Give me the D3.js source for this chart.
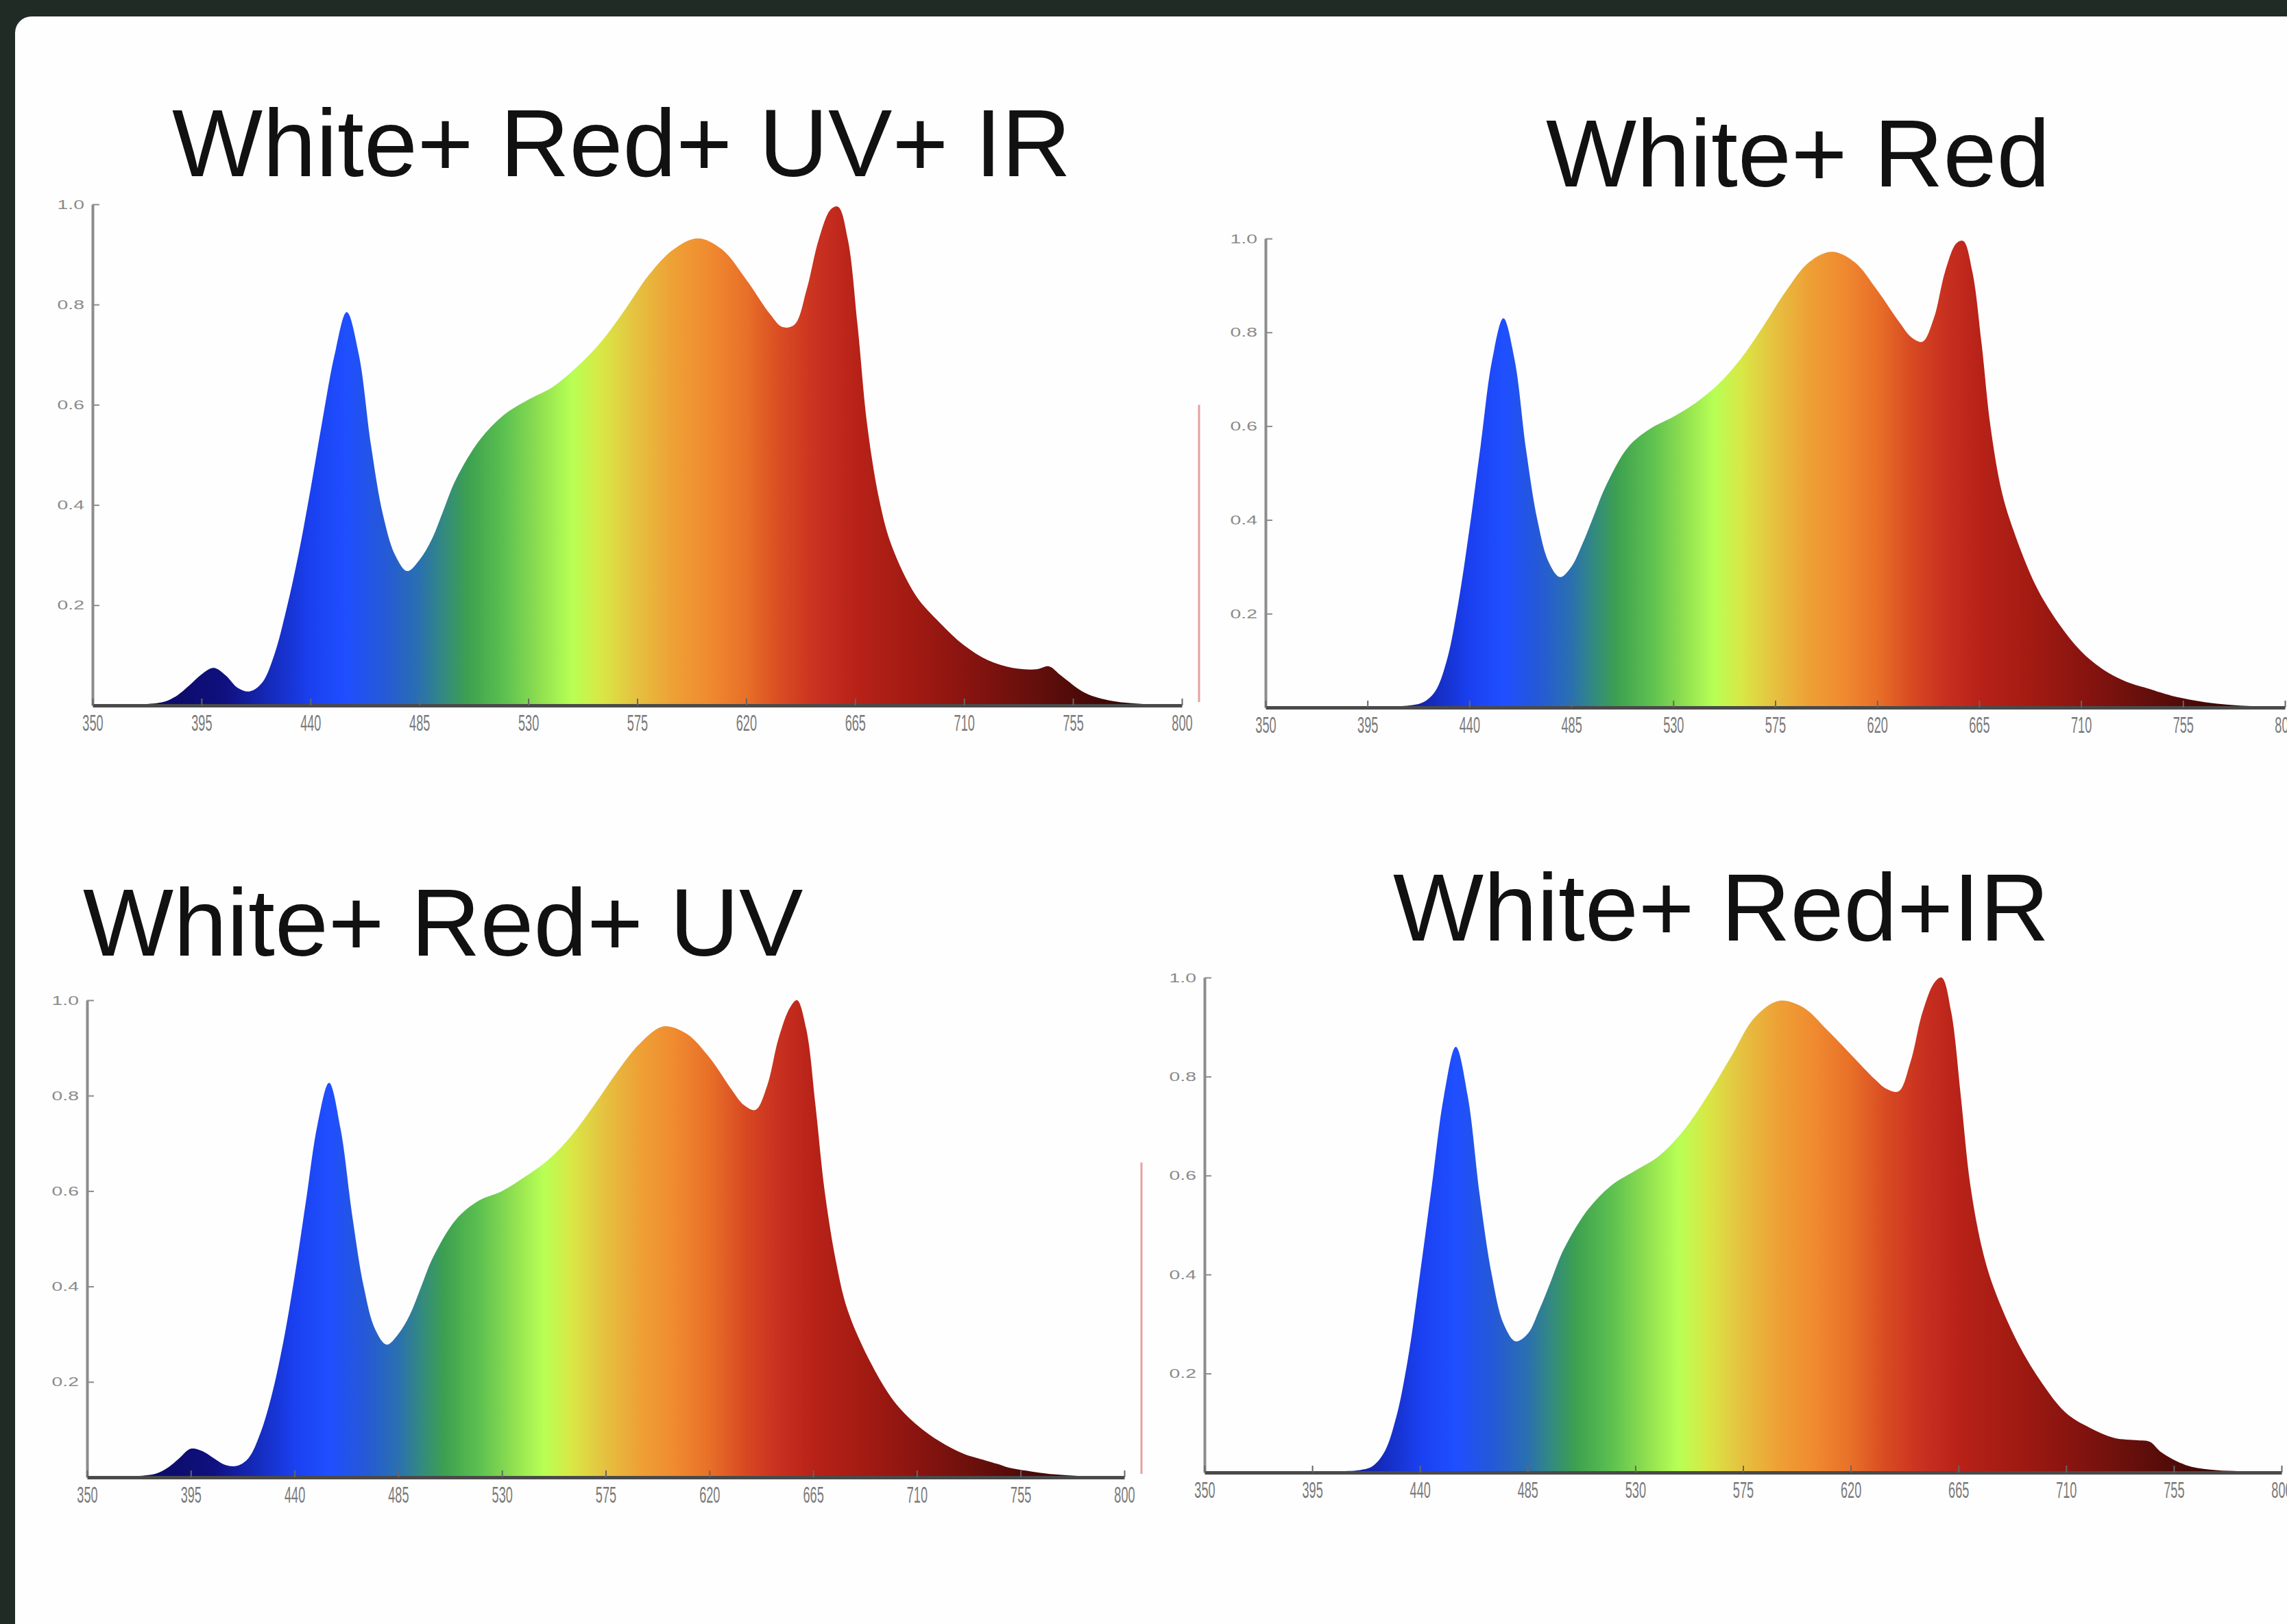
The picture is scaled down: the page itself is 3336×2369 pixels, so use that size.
<!DOCTYPE html>
<html><head><meta charset="utf-8">
<script src="https://cdn.jsdelivr.net/npm/d3@7"></script>
<style>html,body{margin:0;padding:0;background:#212b26;} svg{display:block}</style>
</head><body>
<svg id="c" width="3336" height="2369"></svg>
<script>
// ---------- data ----------
const titles = ["White+ Red+ UV+ IR", "White+ Red", "White+ Red+ UV", "White+ Red+IR"];
const wavelengths = [350,360,370,380,385,390,395,400,405,410,415,420,425,430,435,440,445,450,455,460,465,470,475,480,485,490,495,500,510,520,530,540,550,560,570,580,590,600,610,620,630,635,640,645,650,655,658,662,666,670,675,680,690,700,710,720,730,740,745,750,760,770,780,790,800];
const seriesWhiteRedUvIr = [0,0,0.002,0.008,0.02,0.04,0.062,0.075,0.06,0.035,
  0.028,0.045,0.10,0.19,0.30,0.43,0.57,0.70,0.785,0.70,
  0.52,0.38,0.30,0.268,0.29,0.33,0.39,0.45,0.53,0.58,
  0.61,0.635,0.675,0.725,0.79,0.86,0.91,0.932,0.91,0.85,
  0.78,0.755,0.76,0.83,0.93,0.99,0.995,0.93,0.76,0.56,
  0.41,0.32,0.22,0.165,0.12,0.09,0.075,0.072,0.078,0.06,
  0.025,0.01,0.004,0.001,0];
const seriesWhiteRed = [0,0,0,0,0,0,0,0.001,0.002,0.003,
  0.005,0.012,0.035,0.10,0.22,0.38,0.56,0.74,0.83,0.74,
  0.55,0.40,0.31,0.278,0.30,0.35,0.41,0.47,0.555,0.595,
  0.62,0.65,0.69,0.745,0.815,0.89,0.95,0.972,0.95,0.89,
  0.82,0.79,0.78,0.83,0.93,0.99,0.995,0.93,0.78,0.60,
  0.46,0.38,0.26,0.18,0.12,0.08,0.055,0.04,0.032,0.025,
  0.015,0.008,0.004,0.002,0];
const seriesWhiteRedUv = [0,0,0.002,0.008,0.02,0.04,0.06,0.055,0.04,0.026,
  0.024,0.04,0.09,0.17,0.28,0.42,0.58,0.74,0.827,0.73,
  0.55,0.40,0.31,0.278,0.30,0.34,0.40,0.46,0.54,0.58,
  0.60,0.63,0.665,0.715,0.78,0.85,0.91,0.945,0.93,0.88,
  0.81,0.78,0.77,0.82,0.92,0.985,1.0,0.94,0.78,0.60,
  0.45,0.35,0.24,0.16,0.11,0.075,0.05,0.035,0.028,0.02,
  0.012,0.006,0.003,0.001,0];
const seriesWhiteRedIr = [0,0,0,0,0,0,0,0.001,0.002,0.003,
  0.005,0.012,0.04,0.11,0.23,0.40,0.58,0.76,0.86,0.76,
  0.56,0.40,0.30,0.265,0.28,0.33,0.39,0.45,0.53,0.58,
  0.61,0.64,0.69,0.76,0.84,0.92,0.953,0.94,0.895,0.845,
  0.795,0.775,0.77,0.83,0.93,0.99,1.0,0.93,0.76,0.58,
  0.45,0.37,0.26,0.18,0.12,0.09,0.07,0.065,0.062,0.04,
  0.015,0.006,0.003,0.001,0];
const xTicks = [350,395,440,485,530,575,620,665,710,755,800];
const yTicks = [0.2,0.4,0.6,0.8,1.0];

// ---------- style ----------
const spectrumStopWl = [350,390,405,420,440,455,470,485,495,505,520,535,548,560,575,590,605,620,635,650,665,690,710,735,760,800];
const spectrumStopCol = ["#0a0a5a","#0d0d70","#101080","#1426b0","#1a40f0","#1f4fff","#2558d8","#2a70b0","#338a80","#3da050","#5cc050","#90e050","#b8ff55","#d8e845","#e6c040","#eea035","#f08a30","#e87028","#d84a22","#c83020","#b82218","#a01a12","#8a1410","#6a100c","#4a0a08","#200404"];

const layout = [
  {x0:135, x1:1724, y0:1029, y1:298, tx:251, ty:257, series:seriesWhiteRedUvIr, redLine:0.6},
  {x0:1846, x1:3333, y0:1032, y1:348, tx:2255, ty:272, series:seriesWhiteRed},
  {x0:127, x1:1640, y0:2155, y1:1459, tx:121, ty:1394, series:seriesWhiteRedUv, redLine:0.66},
  {x0:1757, x1:3328, y0:2148, y1:1426, tx:2032, ty:1372, series:seriesWhiteRedIr}
];

const svg = d3.select("#c");
svg.append("rect").attr("width",3336).attr("height",2369).attr("fill","#212b26");
svg.append("rect").attr("x",22).attr("y",24).attr("width",3400).attr("height",2400).attr("rx",24).attr("fill","#fefefe");
const defs = svg.append("defs");

layout.forEach((p, i) => {
  const x = d3.scaleLinear().domain([350,800]).range([p.x0,p.x1]);
  const y = d3.scaleLinear().domain([0,1]).range([p.y0,p.y1]);
  const g = svg.append("g");

  const grad = defs.append("linearGradient").attr("id","spec"+i)
    .attr("gradientUnits","userSpaceOnUse")
    .attr("x1",x(350)).attr("x2",x(800)).attr("y1",0).attr("y2",0);
  spectrumStopWl.forEach((w,k)=>{
    grad.append("stop").attr("offset",(x(w)-x(350))/(x(800)-x(350))).attr("stop-color",spectrumStopCol[k]);
  });

  const data = wavelengths.map((w,k)=>({w, v:p.series[k]}));
  const area = d3.area().x(d=>x(d.w)).y0(y(0)).y1(d=>y(d.v)).curve(d3.curveCatmullRom.alpha(0.5));
  g.append("path").datum(data).attr("d",area).attr("fill","url(#spec"+i+")");

  if (p.redLine) {
    g.append("line").attr("x1",x(800)+25).attr("x2",x(800)+25).attr("y1",y(p.redLine)).attr("y2",y(0)-5)
      .attr("stroke","#e8a0a0").attr("stroke-width",3);
  }

  // y axis
  const ya = g.append("g").attr("transform",`translate(${p.x0},0)`)
    .call(d3.axisLeft(y).tickValues(yTicks).tickFormat(d3.format(".1f")).tickSizeInner(-10).tickSizeOuter(0).tickPadding(0));
  ya.select(".domain").attr("stroke","#8c8c8c").attr("stroke-width",4);
  ya.selectAll(".tick line").attr("stroke","#8c8c8c").attr("stroke-width",2);
  ya.selectAll(".tick text").attr("x",0).attr("transform","translate(-12,0) scale(1.35,0.9)")
    .attr("font-family","Liberation Sans, Arial, sans-serif").attr("font-size",21).attr("fill","#8a8a8a");

  // x axis
  const xa = g.append("g").attr("transform",`translate(0,${p.y0})`)
    .call(d3.axisBottom(x).tickValues(xTicks).tickFormat(d3.format("d")).tickSizeInner(-10).tickSizeOuter(0).tickPadding(14));
  xa.select(".domain").attr("stroke","#4a4a4a").attr("stroke-width",5);
  xa.selectAll(".tick line").attr("stroke","#666").attr("stroke-width",2);
  xa.selectAll(".tick text").attr("transform","scale(0.55,1)")
    .attr("font-family","Liberation Sans, Arial, sans-serif").attr("font-size",33).attr("fill","#7a7a7a");

  // title
  svg.append("text").attr("x",p.tx).attr("y",p.ty).text(titles[i])
    .attr("font-family","Liberation Sans, Arial, sans-serif").attr("font-size",140).attr("fill","#111");
});
</script>
</body></html>
